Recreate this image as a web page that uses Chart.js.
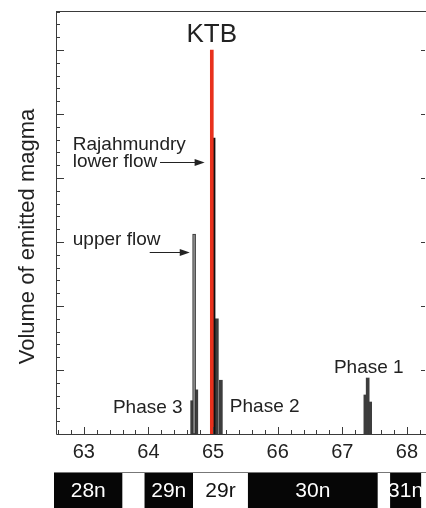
<!DOCTYPE html>
<html>
<head>
<meta charset="utf-8">
<script src="https://cdn.jsdelivr.net/npm/chart.js@4.4.1/dist/chart.umd.min.js"></script>
<style>
  html, body { margin: 0; padding: 0; background: #fff; }
  #wrap { width: 426px; height: 508px; }
</style>
</head>
<body>
<div id="wrap"><canvas id="magmaChart" width="426" height="508"></canvas></div>
<script>
// ages (Ma) and volumes
const phaseAges = [64.677, 64.741, 65.059, 65.121, 67.357, 67.393, 67.432];
const phaseVolumes = [0.52, 0.69, 1.80, 0.84, 0.61, 0.875, 0.50];
const upperFlowAges = [64.707];
const upperFlowVolumes = [3.125];
const ktbAges = [64.981];
const ktbVolumes = [6.0];
const lowerFlowAges = [65.016];
const lowerFlowVolumes = [4.625];

// x axis labels
const xTickLabels = [63, 64, 65, 66, 67, 68];

// magnetic chrons under the axis
const chronNames = ['28n', '', '29n', '29r', '30n', '', '31n'];
const chronStart = [62.50, 63.60, 63.94, 64.69, 65.54, 67.55, 67.74];
const chronEnd = [63.60, 63.94, 64.69, 65.54, 67.55, 67.74, 68.22];
const chronNormal = [true, false, true, false, true, false, true];

// text labels on the plot (anchored in data units)
const notes = [
  { text: 'KTB', x: 64.981, y: 6.12, align: 'center', size: 26 },
  { text: 'Rajahmundry', x: 62.83, y: 4.44, align: 'left', size: 19 },
  { text: 'lower flow', x: 62.83, y: 4.17, align: 'left', size: 19 },
  { text: 'upper flow', x: 62.83, y: 2.95, align: 'left', size: 19 },
  { text: 'Phase 3', x: 64.53, y: 0.33, align: 'right', size: 19 },
  { text: 'Phase 2', x: 65.26, y: 0.34, align: 'left', size: 19 },
  { text: 'Phase 1', x: 67.41, y: 0.95, align: 'center', size: 19 }
];
const arrows = [
  { x0: 64.18, x1: 64.87, y: 4.25 },
  { x0: 64.02, x1: 64.64, y: 2.84 }
];

const toXY = (xs, ys) => xs.map((v, i) => ({ x: v, y: ys[i] }));
const FONT = '"Liberation Sans", Arial, sans-serif';

const decor = {
  id: 'decor',
  afterDraw(chart) {
    const ctx = chart.ctx, sx = chart.scales.x, sy = chart.scales.y, a = chart.chartArea;
    ctx.save();

    // frame
    ctx.strokeStyle = '#3a3a3a';
    ctx.lineWidth = 1;
    ctx.beginPath();
    ctx.moveTo(a.left + 0.5, a.top + 0.5);
    ctx.lineTo(a.left + 0.5, a.bottom + 0.5);
    ctx.lineTo(chart.width, a.bottom + 0.5);
    ctx.moveTo(a.left, a.top + 0.5);
    ctx.lineTo(chart.width, a.top + 0.5);
    ctx.stroke();

    // inward ticks
    ctx.beginPath();
    for (let k = Math.ceil(sx.min * 5); k <= Math.floor(sx.max * 5); k++) {
      const px = Math.round(sx.getPixelForValue(k / 5)) + 0.5;
      const len = k % 5 === 0 ? 7 : 4;
      ctx.moveTo(px, a.bottom);
      ctx.lineTo(px, a.bottom - len);
    }
    for (let k = 1; k <= Math.floor(sy.max * 5); k++) {
      const py = Math.round(sy.getPixelForValue(k / 5)) + 0.5;
      const len = k % 5 === 0 ? 8 : 4;
      ctx.moveTo(a.left, py);
      ctx.lineTo(a.left + len, py);
      if (k % 5 === 0) {
        ctx.moveTo(a.right, py);
        ctx.lineTo(a.right - 4, py);
      }
    }
    ctx.stroke();

    // x labels
    ctx.fillStyle = '#222';
    ctx.font = '20px ' + FONT;
    ctx.textAlign = 'center';
    ctx.textBaseline = 'middle';
    xTickLabels.forEach(v => ctx.fillText(String(v), sx.getPixelForValue(v), a.bottom + 18));

    // y title
    ctx.save();
    ctx.translate(28, (a.top + a.bottom) / 2 + 14);
    ctx.rotate(-Math.PI / 2);
    ctx.font = '22px ' + FONT;
    ctx.fillText('Volume of emitted magma', 0, 0);
    ctx.restore();

    // notes
    ctx.textBaseline = 'alphabetic';
    notes.forEach(n => {
      ctx.font = n.size + 'px ' + FONT;
      ctx.textAlign = n.align;
      ctx.fillText(n.text, sx.getPixelForValue(n.x), sy.getPixelForValue(n.y));
    });

    // arrows
    ctx.strokeStyle = '#222';
    arrows.forEach(ar => {
      const x0 = sx.getPixelForValue(ar.x0), x1 = sx.getPixelForValue(ar.x1);
      const py = Math.round(sy.getPixelForValue(ar.y)) + 0.5;
      ctx.beginPath();
      ctx.moveTo(x0, py);
      ctx.lineTo(x1 - 8, py);
      ctx.stroke();
      ctx.beginPath();
      ctx.moveTo(x1, py);
      ctx.lineTo(x1 - 10, py - 3.5);
      ctx.lineTo(x1 - 10, py + 3.5);
      ctx.closePath();
      ctx.fill();
    });

    // chron band
    const bTop = a.bottom + 38, bBot = chart.height;
    chronNames.forEach((name, i) => {
      const x0 = Math.max(sx.getPixelForValue(chronStart[i]), a.left - 2);
      const x1 = sx.getPixelForValue(chronEnd[i]);
      ctx.fillStyle = chronNormal[i] ? '#060606' : '#fff';
      ctx.fillRect(x0, bTop, x1 - x0, bBot - bTop);
      if (name) {
        ctx.fillStyle = chronNormal[i] ? '#fff' : '#111';
        ctx.font = '21px ' + FONT;
        ctx.textAlign = 'center';
        ctx.textBaseline = 'middle';
        ctx.fillText(name, (x0 + x1) / 2, (bTop + bBot) / 2 + 1);
      }
    });
    ctx.strokeStyle = '#777';
    ctx.beginPath();
    ctx.moveTo(a.left - 2, bTop + 0.5);
    ctx.lineTo(chart.width, bTop + 0.5);
    ctx.stroke();

    ctx.restore();
  }
};

new Chart(document.getElementById('magmaChart'), {
  type: 'bar',
  data: {
    datasets: [
      {
        label: 'KTB',
        data: toXY(ktbAges, ktbVolumes),
        backgroundColor: '#e8311d',
        barThickness: 3
      },
      {
        label: 'lower flow',
        data: toXY(lowerFlowAges, lowerFlowVolumes),
        backgroundColor: '#111',
        barThickness: 2
      },
      {
        label: 'upper flow',
        data: toXY(upperFlowAges, upperFlowVolumes),
        backgroundColor: '#8a8a8a',
        borderColor: '#333',
        borderWidth: 1,
        borderSkipped: false,
        barThickness: 3
      },
      {
        label: 'phases',
        data: toXY(phaseAges, phaseVolumes),
        backgroundColor: '#3d3d3d',
        borderColor: '#222',
        borderWidth: 0,
        barThickness: 3
      }
    ]
  },
  options: {
    responsive: false,
    animation: false,
    layout: { padding: { left: 56, top: 11, right: 1, bottom: 74 } },
    datasets: { bar: { grouped: false } },
    plugins: { legend: { display: false }, tooltip: { enabled: false } },
    scales: {
      x: { type: 'linear', min: 62.57, max: 68.28, offset: false, display: false },
      y: { min: 0, max: 6.61, display: false }
    }
  },
  plugins: [decor]
});
</script>
</body>
</html>
